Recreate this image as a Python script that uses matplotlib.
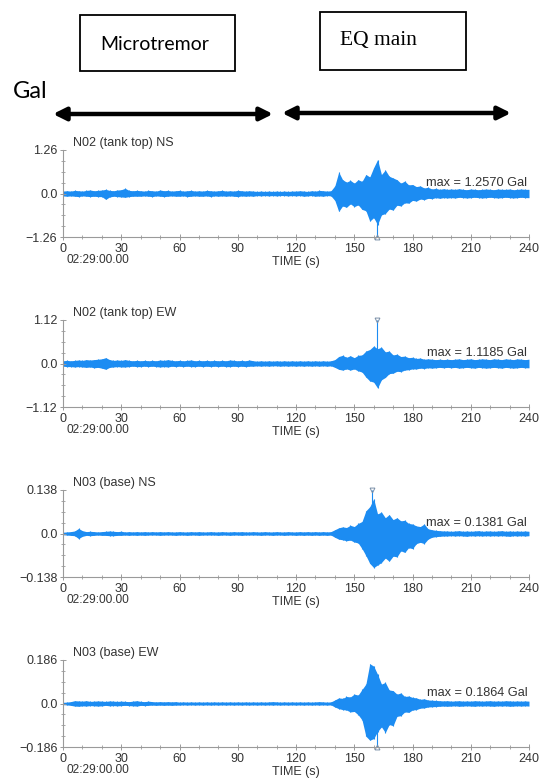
import numpy as np
import matplotlib
matplotlib.use("Agg")
import matplotlib.pyplot as plt
from matplotlib.patches import Rectangle, FancyArrowPatch
from matplotlib.ticker import MultipleLocator, AutoMinorLocator

plt.rcParams["font.family"] = ["Liberation Sans", "DejaVu Sans"]

# envelope of each record, sampled every 2 s (0..240 s)
t = np.arange(0, 241, 2)

titles = ["N02 (tank top) NS", "N02 (tank top) EW", "N03 (base) NS", "N03 (base) EW"]
y_max = [1.26, 1.12, 0.138, 0.186]
max_text = ["1.2570", "1.1185", "0.1381", "0.1864"]
peak_time = [161.7, 161.5, 158.9, 161.5]
peak_gal = [-1.2570, 1.1185, 0.1381, -0.1864]

ns_top_up = [0.07,0.08,0.07,0.09,0.08,0.07,0.09,0.10,0.08,0.09,
             0.10,0.12,0.09,0.08,0.10,0.11,0.15,0.09,0.08,0.09,
             0.08,0.07,0.09,0.08,0.07,0.10,0.08,0.09,0.07,0.08,
             0.09,0.07,0.08,0.09,0.07,0.08,0.07,0.09,0.08,0.07,
             0.08,0.09,0.07,0.08,0.07,0.09,0.08,0.07,0.08,0.07,
             0.06,0.07,0.06,0.07,0.06,0.07,0.06,0.07,0.06,0.07,
             0.07,0.08,0.07,0.06,0.08,0.07,0.09,0.08,0.07,0.08,
             0.22,0.62,0.40,0.33,0.38,0.30,0.40,0.35,0.55,0.48,
             0.75,0.98,0.55,0.68,0.50,0.45,0.40,0.30,0.36,0.25,
             0.26,0.20,0.22,0.16,0.18,0.13,0.15,0.12,0.14,0.12,
             0.13,0.12,0.14,0.12,0.11,0.13,0.12,0.11,0.12,0.13,
             0.12,0.11,0.13,0.12,0.12,0.13,0.11,0.12,0.13,0.12,
             0.12]
ns_top_lo = [-0.07,-0.08,-0.07,-0.08,-0.09,-0.07,-0.08,-0.09,-0.08,-0.09,
             -0.09,-0.17,-0.10,-0.08,-0.09,-0.10,-0.11,-0.09,-0.08,-0.08,
             -0.08,-0.07,-0.08,-0.09,-0.07,-0.08,-0.09,-0.08,-0.07,-0.08,
             -0.08,-0.07,-0.09,-0.08,-0.07,-0.08,-0.08,-0.07,-0.09,-0.07,
             -0.08,-0.07,-0.08,-0.07,-0.08,-0.09,-0.07,-0.08,-0.07,-0.08,
             -0.06,-0.07,-0.06,-0.07,-0.06,-0.07,-0.06,-0.06,-0.07,-0.06,
             -0.07,-0.06,-0.08,-0.07,-0.06,-0.08,-0.07,-0.08,-0.06,-0.07,
             -0.20,-0.52,-0.36,-0.40,-0.30,-0.38,-0.33,-0.46,-0.50,-0.80,
             -0.70,-0.90,-0.62,-0.58,-0.45,-0.48,-0.34,-0.36,-0.27,-0.28,
             -0.20,-0.22,-0.16,-0.18,-0.14,-0.15,-0.12,-0.14,-0.12,-0.13,
             -0.12,-0.13,-0.11,-0.12,-0.13,-0.12,-0.11,-0.12,-0.13,-0.12,
             -0.11,-0.12,-0.13,-0.12,-0.11,-0.12,-0.13,-0.12,-0.11,-0.12,
             -0.12]

ew_top_up = [0.07,0.08,0.07,0.08,0.09,0.08,0.10,0.09,0.10,0.11,
             0.12,0.15,0.10,0.08,0.09,0.08,0.10,0.08,0.07,0.08,
             0.07,0.08,0.07,0.08,0.07,0.09,0.08,0.10,0.08,0.07,
             0.08,0.07,0.08,0.09,0.07,0.08,0.07,0.08,0.07,0.08,
             0.07,0.08,0.07,0.09,0.08,0.07,0.08,0.07,0.09,0.07,
             0.06,0.07,0.06,0.07,0.06,0.07,0.06,0.07,0.06,0.07,
             0.06,0.07,0.06,0.07,0.06,0.07,0.06,0.07,0.06,0.07,
             0.10,0.18,0.21,0.16,0.20,0.15,0.21,0.22,0.32,0.36,
             0.45,0.38,0.42,0.30,0.32,0.22,0.24,0.18,0.19,0.15,
             0.16,0.13,0.14,0.11,0.12,0.11,0.10,0.11,0.10,0.11,
             0.10,0.11,0.12,0.10,0.11,0.12,0.10,0.11,0.12,0.11,
             0.10,0.12,0.11,0.10,0.12,0.11,0.10,0.12,0.11,0.10,
             0.11]
ew_top_lo = [-0.07,-0.08,-0.08,-0.09,-0.08,-0.09,-0.10,-0.09,-0.11,-0.10,
             -0.12,-0.15,-0.10,-0.09,-0.08,-0.09,-0.09,-0.08,-0.07,-0.08,
             -0.08,-0.07,-0.08,-0.07,-0.08,-0.09,-0.08,-0.09,-0.07,-0.08,
             -0.07,-0.08,-0.07,-0.08,-0.08,-0.07,-0.08,-0.07,-0.08,-0.07,
             -0.08,-0.07,-0.08,-0.08,-0.07,-0.08,-0.07,-0.08,-0.07,-0.07,
             -0.06,-0.07,-0.06,-0.07,-0.06,-0.06,-0.07,-0.06,-0.07,-0.06,
             -0.07,-0.06,-0.07,-0.06,-0.07,-0.06,-0.07,-0.06,-0.07,-0.06,
             -0.10,-0.15,-0.17,-0.14,-0.17,-0.14,-0.19,-0.22,-0.35,-0.45,
             -0.48,-0.63,-0.42,-0.36,-0.26,-0.25,-0.20,-0.21,-0.17,-0.16,
             -0.14,-0.14,-0.12,-0.13,-0.11,-0.12,-0.11,-0.10,-0.11,-0.10,
             -0.11,-0.10,-0.12,-0.11,-0.10,-0.11,-0.12,-0.10,-0.11,-0.12,
             -0.11,-0.10,-0.11,-0.12,-0.10,-0.11,-0.12,-0.11,-0.10,-0.11,
             -0.11]

ns_base_up = [0.004,0.005,0.006,0.008,0.016,0.009,0.006,0.007,0.006,0.005,
              0.006,0.007,0.008,0.007,0.006,0.007,0.005,0.006,0.005,0.006,
              0.005,0.006,0.005,0.006,0.005,0.006,0.005,0.006,0.005,0.005,
              0.006,0.005,0.005,0.006,0.005,0.006,0.005,0.005,0.006,0.005,
              0.005,0.006,0.005,0.005,0.006,0.005,0.006,0.005,0.005,0.006,
              0.005,0.005,0.006,0.005,0.005,0.006,0.005,0.005,0.006,0.005,
              0.005,0.006,0.005,0.006,0.005,0.006,0.005,0.006,0.005,0.006,
              0.012,0.018,0.021,0.019,0.026,0.022,0.032,0.038,0.072,0.085,
              0.110,0.062,0.068,0.050,0.060,0.044,0.050,0.040,0.042,0.032,
              0.030,0.024,0.022,0.030,0.015,0.012,0.010,0.009,0.008,0.008,
              0.007,0.008,0.009,0.007,0.008,0.007,0.008,0.009,0.007,0.008,
              0.008,0.007,0.008,0.009,0.007,0.008,0.007,0.008,0.007,0.008,
              0.007]
ns_base_lo = [-0.004,-0.005,-0.006,-0.007,-0.016,-0.009,-0.006,-0.007,-0.006,-0.005,
              -0.006,-0.006,-0.007,-0.007,-0.006,-0.006,-0.005,-0.006,-0.005,-0.006,
              -0.005,-0.006,-0.005,-0.005,-0.005,-0.006,-0.005,-0.005,-0.005,-0.006,
              -0.005,-0.005,-0.006,-0.005,-0.005,-0.006,-0.005,-0.005,-0.005,-0.005,
              -0.006,-0.005,-0.005,-0.006,-0.005,-0.005,-0.006,-0.005,-0.005,-0.005,
              -0.005,-0.006,-0.005,-0.005,-0.006,-0.005,-0.005,-0.006,-0.005,-0.005,
              -0.006,-0.005,-0.006,-0.005,-0.006,-0.005,-0.006,-0.005,-0.006,-0.005,
              -0.012,-0.018,-0.020,-0.023,-0.021,-0.027,-0.030,-0.048,-0.070,-0.095,
              -0.108,-0.100,-0.092,-0.078,-0.088,-0.072,-0.074,-0.055,-0.060,-0.045,
              -0.048,-0.032,-0.028,-0.032,-0.018,-0.012,-0.010,-0.009,-0.008,-0.008,
              -0.007,-0.008,-0.007,-0.008,-0.009,-0.007,-0.008,-0.007,-0.008,-0.007,
              -0.008,-0.007,-0.008,-0.007,-0.008,-0.009,-0.007,-0.008,-0.007,-0.008,
              -0.007]

ew_base_up = [0.005,0.006,0.008,0.012,0.011,0.010,0.012,0.009,0.010,0.011,
              0.010,0.009,0.011,0.010,0.009,0.010,0.009,0.008,0.010,0.012,
              0.009,0.008,0.010,0.008,0.007,0.008,0.007,0.008,0.007,0.008,
              0.006,0.007,0.006,0.007,0.006,0.007,0.006,0.007,0.006,0.007,
              0.006,0.007,0.006,0.007,0.006,0.007,0.006,0.007,0.006,0.007,
              0.006,0.007,0.006,0.007,0.008,0.007,0.006,0.007,0.006,0.007,
              0.006,0.007,0.006,0.007,0.006,0.007,0.008,0.007,0.006,0.007,
              0.015,0.024,0.022,0.030,0.028,0.040,0.036,0.060,0.083,0.170,
              0.160,0.125,0.083,0.090,0.058,0.055,0.040,0.045,0.030,0.032,
              0.026,0.024,0.018,0.020,0.015,0.014,0.013,0.012,0.011,0.012,
              0.010,0.011,0.012,0.010,0.011,0.010,0.012,0.011,0.010,0.011,
              0.012,0.010,0.011,0.010,0.012,0.011,0.010,0.011,0.010,0.011,
              0.010]
ew_base_lo = [-0.005,-0.006,-0.008,-0.011,-0.012,-0.010,-0.011,-0.009,-0.010,-0.011,
              -0.010,-0.008,-0.010,-0.009,-0.010,-0.009,-0.008,-0.009,-0.010,-0.011,
              -0.008,-0.009,-0.008,-0.007,-0.008,-0.007,-0.008,-0.007,-0.008,-0.007,
              -0.007,-0.006,-0.007,-0.006,-0.007,-0.006,-0.007,-0.006,-0.007,-0.006,
              -0.007,-0.006,-0.007,-0.006,-0.007,-0.006,-0.007,-0.006,-0.007,-0.006,
              -0.007,-0.006,-0.007,-0.006,-0.007,-0.006,-0.007,-0.006,-0.007,-0.006,
              -0.007,-0.006,-0.007,-0.006,-0.007,-0.006,-0.007,-0.006,-0.007,-0.006,
              -0.015,-0.022,-0.026,-0.028,-0.036,-0.034,-0.048,-0.070,-0.140,-0.157,
              -0.150,-0.120,-0.100,-0.124,-0.090,-0.095,-0.055,-0.052,-0.036,-0.038,
              -0.028,-0.026,-0.020,-0.019,-0.015,-0.014,-0.013,-0.012,-0.011,-0.012,
              -0.011,-0.010,-0.012,-0.011,-0.010,-0.011,-0.012,-0.010,-0.011,-0.010,
              -0.011,-0.012,-0.010,-0.011,-0.010,-0.012,-0.011,-0.010,-0.011,-0.010,
              -0.011]

uppers = [ns_top_up, ew_top_up, ns_base_up, ew_base_up]
lowers = [ns_top_lo, ew_top_lo, ns_base_lo, ew_base_lo]

W, H = 540, 778
wave_color = "#1c8cf2"
axis_color = "#9a9a9a"
text_color = "#333333"

fig = plt.figure(figsize=(W / 100, H / 100), dpi=100)

# header positions are given in pixels measured from the top
def fx(px):
    return px / W

def fy(py):
    return 1 - py / H

fig.patches.append(Rectangle((fx(80), fy(71)), fx(155), 56 / H, transform=fig.transFigure,
                             fill=False, ec="black", lw=1.3))
fig.patches.append(Rectangle((fx(320), fy(70)), fx(146), 58 / H, transform=fig.transFigure,
                             fill=False, ec="black", lw=1.3))
fig.text(fx(155), fy(45), "Microtremor", family="Lato", fontsize=14, ha="center", va="center")
fig.text(fx(340), fy(41), "EQ main", family="Liberation Serif", fontsize=15.5, ha="left", va="center")
fig.text(fx(13), fy(92), "Gal", family="Lato", fontsize=17, ha="left", va="center")

for x0, x1, yy in [(53, 273, 114), (282, 511, 113)]:
    fig.add_artist(FancyArrowPatch((fx(x0), fy(yy)), (fx(x1), fy(yy)),
                   transform=fig.transFigure, arrowstyle="<|-|>", mutation_scale=19,
                   color="black", lw=3.2, shrinkA=0, shrinkB=0))

# waveform panels
ax_left, ax_w, ax_h = fx(63), 466 / W, 87 / H
bottoms = [237, 407, 577, 747]

for i in range(4):
    ax = fig.add_axes([ax_left, 1 - bottoms[i] / H, ax_w, ax_h])
    m = y_max[i]
    ax.fill_between(t, lowers[i], uppers[i], color=wave_color, lw=0)
    ax.vlines(t, lowers[i], uppers[i], color=wave_color, lw=0.8)
    ax.vlines(peak_time[i], 0, peak_gal[i], color=wave_color, lw=0.8)
    ax.plot(peak_time[i], peak_gal[i], marker="v" if peak_gal[i] > 0 else "^",
            ms=3.5, mfc="none", mec="#7a8fa8", mew=0.7, clip_on=False)

    ax.set_xlim(0, 240)
    ax.set_ylim(-m, m)
    ax.xaxis.set_major_locator(MultipleLocator(30))
    ax.xaxis.set_minor_locator(MultipleLocator(10))
    ax.set_yticks([-m, 0, m])
    ax.set_yticklabels(["\u2212" + str(m), "0.0", str(m)])
    ax.yaxis.set_minor_locator(AutoMinorLocator(4))
    for s in ["top", "right"]:
        ax.spines[s].set_visible(False)
    for s in ["left", "bottom"]:
        ax.spines[s].set_color(axis_color)
        ax.spines[s].set_linewidth(0.8)
    ax.tick_params(which="major", direction="inout", length=4, width=0.7, color=axis_color,
                   labelsize=9, labelcolor=text_color, pad=2)
    ax.tick_params(which="minor", direction="inout", length=2.5, width=0.6, color=axis_color)

    ax.text(0.021, 1.08, titles[i], transform=ax.transAxes, fontsize=9,
            color=text_color, ha="left", va="center")
    ax.text(0.996, 0.62, "max = " + max_text[i] + " Gal", transform=ax.transAxes,
            fontsize=9.2, color=text_color, ha="right", va="center")
    ax.text(0.008, -0.27, "02:29:00.00", transform=ax.transAxes, fontsize=8.6,
            color=text_color, ha="left", va="center")
    ax.text(0.448, -0.29, "TIME (s)", transform=ax.transAxes, fontsize=9,
            color=text_color, ha="left", va="center")

fig.savefig("out.png", dpi=100)
